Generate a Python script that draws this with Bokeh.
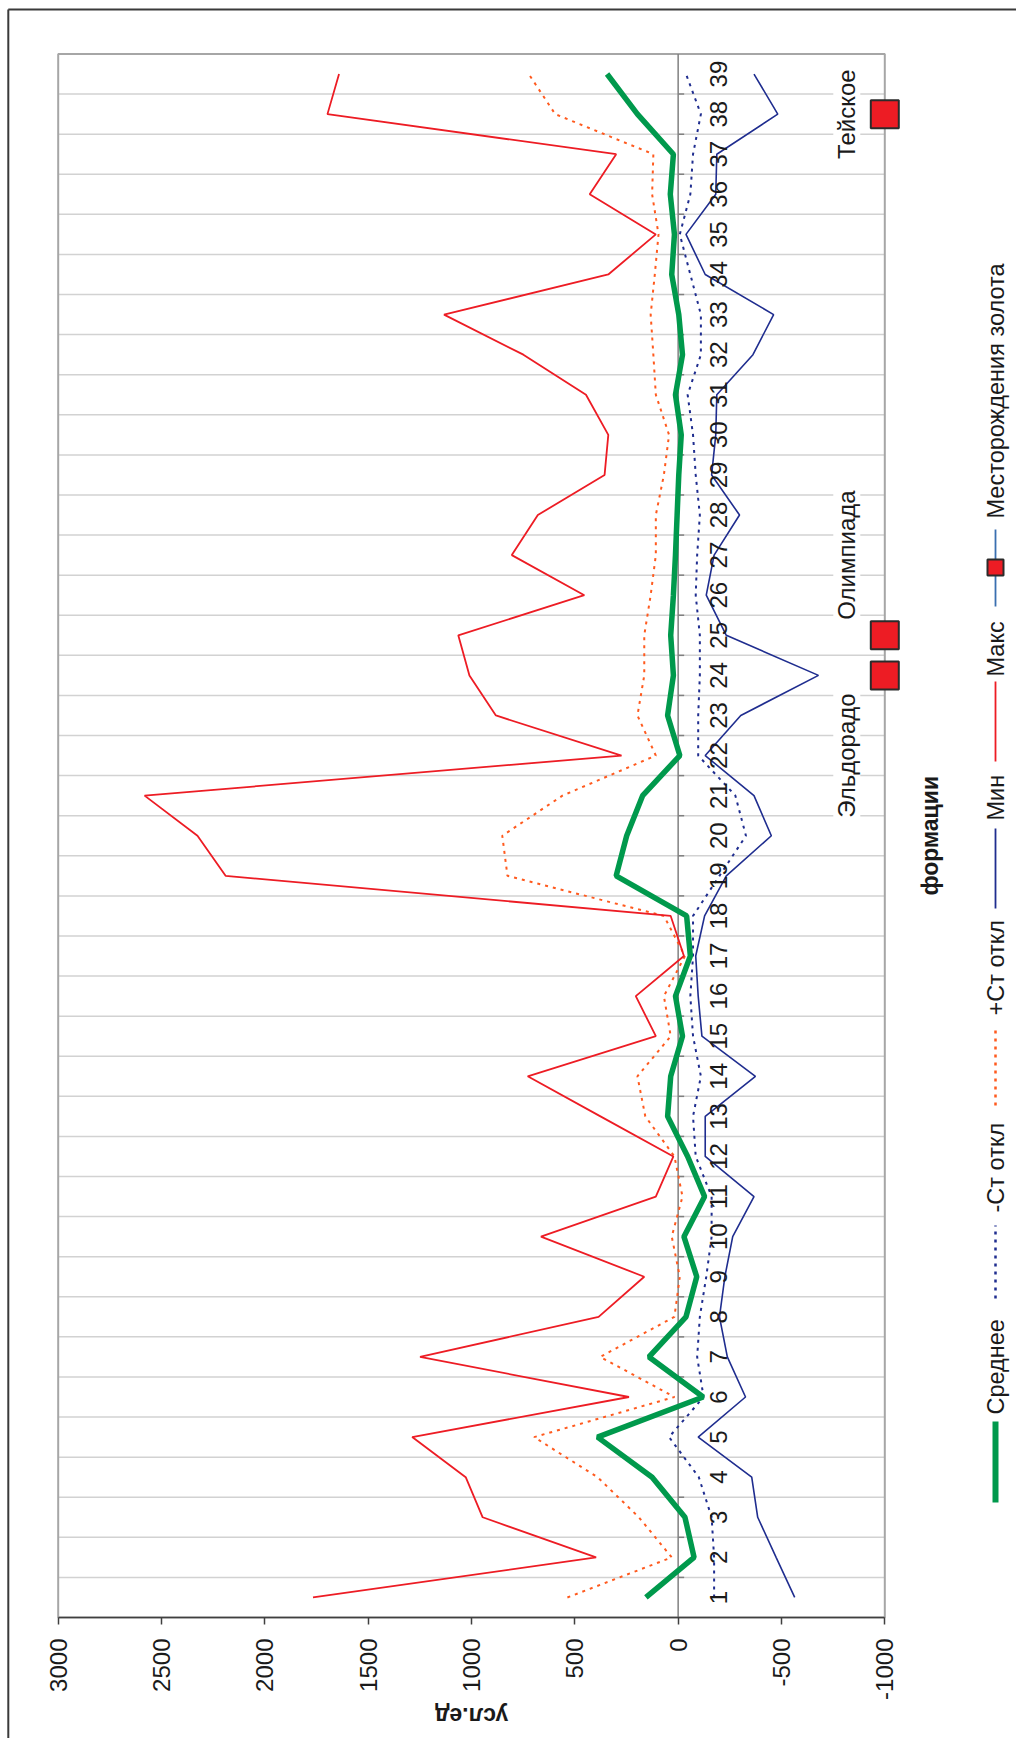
from math import pi

from bokeh.core.properties import value
from bokeh.embed import file_html
from bokeh.models import FixedTicker, Label, Range1d
from bokeh.plotting import figure
from bokeh.resources import INLINE

# ---- data -------------------------------------------------------------
categories = list(range(1, 40))
category_labels = [str(c) for c in categories]

mean_vals = [156, -77, -33, 126, 390, -121, 141, -38, -90, -28,
             -128, -46, 51, 36, -21, 13, -59, -41, 300, 249,
             172, -8, 51, 23, 36, 23, 13, 5, -3, -15,
             13, -21, -3, 31, 18, 38, 23, 197, 344]

minus_std = [-174, -174, -162, -100, 44, -123, -92, -105, -136, -162,
             -162, -85, -72, -110, -72, -59, -72, -72, -200, -328,
             -277, -97, -97, -105, -105, -85, -92, -105, -85, -72,
             -46, -110, -110, -59, -8, -59, -72, -110, -38]

plus_std = [536, 31, 190, 390, 697, 18, 377, 18, -8, 31,
            -21, 18, 159, 197, 36, 69, -33, 69, 826, 851,
            560, 108, 197, 164, 164, 133, 108, 108, 69, 44,
            108, 120, 133, 113, 95, 126, 120, 595, 723]

min_vals = [-564, -474, -385, -356, -97, -326, -238, -200, -226, -264,
            -367, -131, -131, -374, -115, -97, -85, -128, -233, -451,
            -367, -131, -303, -679, -233, -136, -174, -297, -162, -182,
            -187, -362, -462, -131, -38, -182, -187, -482, -367]

max_vals = [1767, 397, 946, 1028, 1287, 238, 1249, 385, 164, 664,
            108, 23, 376, 728, 108, 205, -28, 36, 2190, 2326,
            2582, 274, 882, 1010, 1064, 454, 805, 679, 356, 338,
            446, 749, 1133, 338, 108, 428, 300, 1697, 1641]

deposit_names = ["Эльдорадо", "Олимпиада", "Тейское"]
deposit_cats = [24, 25, 38]
deposit_vals = [-1000, -1000, -1000]
deposit_label_cats = [22, 27, 38]

value_ticks = [-1000, -500, 0, 500, 1000, 1500, 2000, 2500, 3000]

series_names = ["Среднее", "-Ст откл", "+Ст откл", "Мин", "Макс",
                "Месторождения золота"]

# ---- page geometry ----------------------------------------------------
# The frame fills the whole page; the value axis is pinned at the bottom
# edge of the plotting box, so everything is placed in data space.
W, H = 1016, 1738
AXIS_PX = 1617              # pixel row of the value axis
V_LEFT_PX, V_RIGHT_PX = 57.7, 884.3   # where 3000 and -1000 sit
SX = (V_RIGHT_PX - V_LEFT_PX) / 4000.0
PITCH = 40.09               # pixels per category


def xv(px):
    return 3000 - (px - V_LEFT_PX) / SX


def yv(py):
    return 0.5 + (AXIS_PX - py) / PITCH


FONT = "Liberation Sans"
GREEN = "#00994C"
RED = "#ED1C24"
NAVY = "#1F2D8F"
ORANGE = "#FF5A1E"
INK = "#1A1A1A"

p = figure(width=W, height=H, output_backend="svg", toolbar_location=None,
           x_range=Range1d(xv(0), xv(W)), y_range=Range1d(yv(H), yv(0)),
           y_axis_location=None, min_border=0)
p.outline_line_color = None
p.xgrid.visible = False
p.ygrid.visible = False
p.background_fill_color = "white"
p.border_fill_color = "white"

# outer chart border (top and left edges)
p.segment(x0=[xv(7.8), xv(7.8)], y0=[yv(H + 5), yv(9)],
          x1=[xv(7.8), xv(W + 5)], y1=[yv(9), yv(9)],
          line_color="#3A3A3A", line_width=2)

# category gridlines between the formations
bounds = [c + 0.5 for c in categories[:-1]]
p.segment(x0=[3000] * len(bounds), x1=[-1000] * len(bounds), y0=bounds, y1=bounds,
          line_color="#D2D2D2", line_width=1.5)

# plot-area border
p.quad(left=[3000], right=[-1000], bottom=[0.5], top=[39.5],
       fill_color=None, line_color="#A6A6A6", line_width=2)

# category axis crossing at zero with its small tick marks
p.segment(x0=[0], x1=[0], y0=[0.5], y1=[39.5], line_color="#808080", line_width=1.5)
p.segment(x0=[0] * len(bounds), x1=[-6 / SX] * len(bounds), y0=bounds, y1=bounds,
          line_color="#808080", line_width=1.5)

# series
p.line(plus_std, categories, line_color=ORANGE, line_width=2, line_dash="3 5")
p.line(minus_std, categories, line_color=NAVY, line_width=2, line_dash="3 5")
p.line(min_vals, categories, line_color=NAVY, line_width=1.6)
p.line(max_vals, categories, line_color=RED, line_width=1.8)
p.line(mean_vals, categories, line_color=GREEN, line_width=5.5)

# formation numbers beside the zero line
p.text(x=[0] * len(categories), y=categories, text=category_labels, angle=pi / 2,
       x_offset=40, text_align="center", text_baseline="middle",
       text_font=value(FONT), text_font_size="24px", text_color=INK)

# gold deposits
p.scatter(deposit_vals, deposit_cats, marker="square", size=28,
          fill_color=RED, line_color="#2B2B2B", line_width=2)
for name, v, c in zip(deposit_names, deposit_vals, deposit_label_cats):
    p.add_layout(Label(x=v, y=c, x_offset=-38, text=name, angle=pi / 2,
                       text_align="center", text_baseline="middle",
                       text_font=FONT, text_font_size="24px", text_color=INK,
                       background_fill_color="white"))

# category axis title
p.text(x=[xv(929)], y=[20], text=["формации"], angle=pi / 2,
       text_align="center", text_baseline="middle", text_font=value(FONT),
       text_font_size="23px", text_font_style="bold", text_color=INK)

# value axis title (upside down, as on the turned sheet)
p.text(x=[1000], y=[yv(1715)], text=["усл.ед"], angle=pi,
       text_align="center", text_baseline="middle", text_font=value(FONT),
       text_font_size="23px", text_font_style="bold", text_color=INK)

# legend, drawn along the right edge
LX = xv(995)
sym = [(1421, 1502), (1225, 1298), (1029, 1105), (828, 908), (681, 761), (529, 606)]
txt_start = [1414, 1212, 1015, 820, 676, 518]
styles = [dict(line_color=GREEN, line_width=6),
          dict(line_color=NAVY, line_width=2.5, line_dash="3 5"),
          dict(line_color=ORANGE, line_width=2.5, line_dash="3 5"),
          dict(line_color=NAVY, line_width=1.8),
          dict(line_color=RED, line_width=1.8),
          dict(line_color="#3A6FB0", line_width=1.8)]
for (a, b), st in zip(sym, styles):
    p.segment(x0=[LX], x1=[LX], y0=[yv(b)], y1=[yv(a)], **st)
p.scatter([LX], [yv(567)], marker="square", size=16, fill_color=RED,
          line_color="#2B2B2B", line_width=2)
p.text(x=[LX] * 6, y=[yv(t) for t in txt_start], text=series_names, angle=pi / 2,
       text_align="left", text_baseline="middle", text_font=value(FONT),
       text_font_size="23.5px", text_color=INK)

# value axis, pinned to the bottom of the plotting box
ax = p.xaxis[0]
ax.fixed_location = 0.5
ax.bounds = (-1000, 3000)
ax.ticker = FixedTicker(ticks=value_ticks)
ax.major_label_overrides = {t: str(t) for t in value_ticks}
ax.major_label_orientation = pi / 2
ax.major_tick_in = 0
ax.major_tick_out = 7
ax.minor_tick_out = 0
ax.minor_tick_in = 0
ax.major_label_standoff = 14
ax.axis_line_color = "#404040"
ax.axis_line_width = 1.5
ax.major_tick_line_color = "#404040"
ax.major_tick_line_width = 1.5
ax.major_label_text_font = FONT
ax.major_label_text_font_size = "24px"
ax.major_label_text_color = INK

open("out.html", "w").write(file_html(p, INLINE))
